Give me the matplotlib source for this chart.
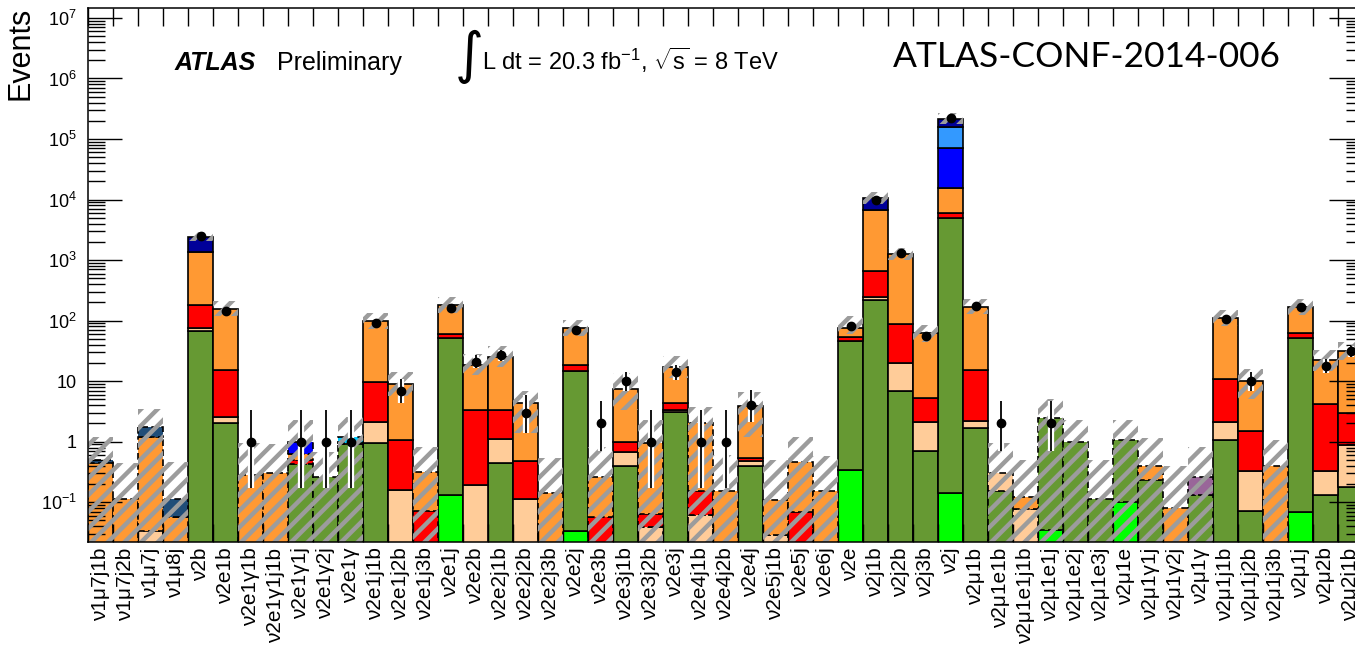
import numpy as np
import matplotlib
matplotlib.use('Agg')
import matplotlib.pyplot as plt
from matplotlib.ticker import FixedLocator, LogLocator, NullFormatter

nan = np.nan

categories = ['ν1μ7j1b', 'ν1μ7j2b', 'ν1μ7j', 'ν1μ8j', 'ν2b', 'ν2e1b', 'ν2e1γ1b', 'ν2e1γ1j1b',
              'ν2e1γ1j', 'ν2e1γ2j', 'ν2e1γ', 'ν2e1j1b', 'ν2e1j2b', 'ν2e1j3b', 'ν2e1j', 'ν2e2b',
              'ν2e2j1b', 'ν2e2j2b', 'ν2e2j3b', 'ν2e2j', 'ν2e3b', 'ν2e3j1b', 'ν2e3j2b', 'ν2e3j',
              'ν2e4j1b', 'ν2e4j2b', 'ν2e4j', 'ν2e5j1b', 'ν2e5j', 'ν2e6j', 'ν2e', 'ν2j1b', 'ν2j2b',
              'ν2j3b', 'ν2j', 'ν2μ1b', 'ν2μ1e1b', 'ν2μ1e1j1b', 'ν2μ1e1j', 'ν2μ1e2j', 'ν2μ1e3j',
              'ν2μ1e', 'ν2μ1γ1j', 'ν2μ1γ2j', 'ν2μ1γ', 'ν2μ1j1b', 'ν2μ1j2b', 'ν2μ1j3b', 'ν2μ1j',
              'ν2μ2b', 'ν2μ2j1b']

# stacked background components (bottom to top)
light_green = [0, 0, 0, 0, 0, 0, 0, 0, 0, 0,
               0, 0, 0, 0, 0.13, 0, 0, 0, 0, 0.032,
               0, 0, 0, 0, 0, 0, 0, 0, 0, 0,
               0.34, 0, 0, 0, 0.14, 0, 0, 0, 0.034, 0,
               0, 0.098, 0, 0, 0, 0, 0, 0, 0.067, 0,
               0]
green = [0, 0, 0, 0, 68, 2.0, 0, 0, 0.42, 0.26,
         0.9, 0.95, 0, 0, 52, 0, 0.45, 0, 0, 14.4,
         0, 0.39, 0, 3.1, 0, 0, 0.39, 0, 0, 0,
         46, 215, 7, 0.71, 4900, 1.7, 0.155, 0, 2.47, 1.0,
         0.114, 0.97, 0.235, 0, 0.133, 1.08, 0.07, 0, 52, 0.133,
         0.18]
peach = [0, 0, 0.032, 0, 8, 0.6, 0, 0, 0, 0,
         0, 1.15, 0.16, 0, 0, 0.19, 0.65, 0.114, 0, 0,
         0, 0.29, 0.038, 0.2, 0.06, 0, 0.08, 0.028, 0, 0,
         0, 35, 13, 1.4, 0, 0.5, 0.145, 0.075, 0, 0,
         0, 0, 0, 0, 0, 1.0, 0.26, 0, 0, 0.19,
         0.71]
red = [0, 0, 0, 0, 108, 12.4, 0, 0, 0.08, 0,
       0, 7.7, 0.92, 0.07, 8, 3.2, 2.2, 0.37, 0, 4.3,
       0.055, 0.32, 0.026, 1.1, 0.09, 0, 0.07, 0, 0.067, 0,
       7.7, 420, 69, 3.2, 1200, 12.8, 0, 0, 0, 0,
       0, 0, 0, 0, 0, 8.9, 1.17, 0, 11, 3.8,
       2.1]
orange = [0.45, 0.11, 1.17, 0.055, 1186, 143, 0.28, 0.3, 0.12, 0,
          0.05, 90, 8.0, 0.25, 124, 15.3, 21.7, 3.8, 0.14, 57,
          0.2, 6.5, 0.9, 12.6, 1.85, 0.15, 3.36, 0.078, 0.4, 0.155,
          22, 5930, 1191, 57.7, 9700, 155, 0, 0.048, 0, 0,
          0, 0, 0.155, 0.08, 0, 101, 8.7, 0.39, 107, 17.9,
          28]
blue = [0, 0, 0, 0, 0, 0, 0, 0, 0.38, 0,
        0, 0, 0, 0, 0, 0, 0, 0, 0, 0,
        0, 0, 0, 0, 0, 0, 0, 0, 0, 0,
        0, 0, 0, 0, 54200, 0, 0, 0, 0, 0,
        0, 0, 0, 0, 0, 0, 0, 0, 0, 0,
        0]
light_blue = [0, 0, 0, 0, 0, 0, 0, 0, 0, 0,
              0, 0, 0, 0, 0, 0, 0, 0, 0, 0,
              0, 0, 0, 0, 0, 0, 0, 0, 0, 0,
              0, 0, 0, 0, 85000, 0, 0, 0, 0, 0,
              0, 0, 0, 0, 0, 0, 0, 0, 0, 0,
              0]
cyan = [0, 0, 0, 0, 0, 0, 0, 0, 0, 0,
        0.25, 0, 0, 0, 0, 0, 0, 0, 0, 0,
        0, 0, 0, 0, 0, 0, 0, 0, 0, 0,
        0, 0, 0, 0, 0, 0, 0, 0, 0, 0,
        0, 0, 0, 0, 0, 0, 0, 0, 0, 0,
        0]
purple = [0, 0, 0, 0, 0, 0, 0, 0, 0, 0,
          0, 0, 0, 0, 0, 0, 0, 0, 0, 0,
          0, 0, 0, 0, 0, 0, 0, 0, 0, 0,
          0, 0, 0, 0, 0, 0, 0, 0, 0, 0,
          0, 0, 0, 0, 0.127, 0, 0, 0, 0, 0,
          0]
steel = [0.05, 0, 0.57, 0.059, 0, 0, 0, 0, 0, 0,
         0, 0, 0, 0, 0, 0, 0, 0, 0, 0,
         0, 0, 0, 0, 0, 0, 0, 0, 0, 0,
         0, 0, 0, 0, 0, 0, 0, 0, 0, 0,
         0, 0, 0, 0, 0, 0, 0, 0, 0, 0,
         0]
navy = [0, 0, 0, 0, 1080, 0, 0, 0, 0, 0,
        0, 0, 0, 0, 0, 0, 0, 0, 0, 0,
        0, 0, 0, 0, 0, 0, 0, 0, 0, 0,
        0, 4100, 0, 0, 62000, 0, 0, 0, 0, 0,
        0, 0, 0, 0, 0, 0, 0, 0, 0, 0,
        0]

# uncertainty band (0 lower edge = band reaches the bottom)
band_hi = [1.2, 0.45, 3.4, 0.47, 2950, 213, 0.96, 0.9, 2.3, 0.67,
           2.6, 135, 14.4, 0.83, 248, 28, 38, 6.8, 0.54, 103,
           0.83, 13.7, 2.3, 25.6, 3.7, 0.6, 6.6, 0.5, 1.2, 0.57,
           120, 13500, 1600, 85, 270000, 225, 0.96, 0.5, 5.0, 2.3,
           0.5, 2.3, 1.15, 0.39, 0.83, 150, 16, 1.08, 230, 33,
           44]
band_lo = [0, 0, 0, 0, 2030, 117, 0, 0, 0, 0,
           0, 74, 5.7, 0, 136, 12.4, 17, 1.4, 0, 56,
           0, 3.3, 0, 11.3, 0, 0, 1.2, 0, 0, 0,
           60, 8500, 1020, 45, 175000, 128, 0, 0, 0, 0,
           0, 0, 0, 0, 0, 83, 5.1, 0, 126, 14.5,
           22]

# observed data and error bar ends
observed = [nan, nan, nan, nan, 2500, 146, 1, nan, 1, 1,
            1, 90, 7, nan, 160, 21, 27, 3, nan, 71,
            2, 10, 1, 14, 1, 1, 4, nan, nan, nan,
            83, 10000, 1320, 55, 220000, 177, 2, nan, 2, nan,
            nan, nan, nan, nan, nan, 108, 10, nan, 165, 18,
            31]
obs_lo = [nan, nan, nan, nan, 2450, 134, 0.17, nan, 0.17, 0.17,
          0.17, 80.5, 4.42, nan, 147, 16.5, 21.8, 1.37, nan, 62.6,
          0.71, 6.89, 0.17, 10.3, 0.17, 0.17, 2.09, nan, nan, nan,
          74, 9900, 1284, 47.6, 219000, 164, 0.71, nan, 0.71, nan,
          nan, nan, nan, nan, nan, 97.6, 6.89, nan, 152, 13.7,
          25.4]
obs_hi = [nan, nan, nan, nan, 2550, 158, 3.3, nan, 3.3, 3.3,
          3.3, 99.5, 10.77, nan, 173, 26.7, 33.3, 5.92, nan, 79.4,
          4.64, 14.26, 3.3, 18.8, 3.3, 3.3, 7.16, nan, nan, nan,
          92, 10100, 1356, 62.4, 221000, 190, 4.64, nan, 4.64, nan,
          nan, nan, nan, nan, nan, 118.4, 14.26, nan, 178, 23.1,
          37.6]

ytick_values = [0.1, 1, 10, 100, 1e3, 1e4, 1e5, 1e6, 1e7]
ytick_labels = ['$10^{-1}$', '1', '10', '$10^{2}$', '$10^{3}$', '$10^{4}$', '$10^{5}$', '$10^{6}$', '$10^{7}$']

# ---------------------------------------------------------------- style
plt.rcParams['font.family'] = ['Liberation Sans', 'DejaVu Sans']
plt.rcParams['mathtext.fontset'] = 'custom'
plt.rcParams['mathtext.rm'] = 'Liberation Sans'
plt.rcParams['mathtext.it'] = 'Liberation Sans:italic'
plt.rcParams['mathtext.bf'] = 'Liberation Sans:bold'
plt.rcParams['hatch.linewidth'] = 3.2

components = [
    (light_green, '#00ff00'), (green, '#669933'), (peach, '#ffcc99'), (red, '#ff0000'),
    (orange, '#ff9933'), (blue, '#0000ff'), (light_blue, '#3399ff'), (cyan, '#00ccff'),
    (purple, '#996699'), (steel, '#204d78'), (navy, '#000099'),
]

fig = plt.figure(figsize=(13.55, 6.52), dpi=100)
ax = fig.add_axes([88 / 1355, 110 / 652, 1275 / 1355, 534 / 652])

n = len(categories)
x = np.arange(n) + 0.5
floor = 1e-3
lo_arr = np.array(band_lo, float)
hi_arr = np.array(band_hi, float)
dashed = lo_arr <= 0

bottom = np.full(n, floor)
for vals, col in components:
    v = np.array(vals, float)
    m = v > 0
    for ls, sel in (('-', m & ~dashed), ((0, (4, 2)), m & dashed)):
        if sel.any():
            ax.bar(x[sel], v[sel], width=1.0, bottom=bottom[sel], color=col,
                   edgecolor='black', linewidth=1.2, linestyle=ls, zorder=1)
    bottom = bottom + v

band_bottom = np.where(lo_arr > 0, lo_arr, floor)
ax.bar(x, hi_arr - band_bottom, width=1.0, bottom=band_bottom, fill=False,
       hatch='//', edgecolor='#9c9c9c', linewidth=0, zorder=2)

obs = np.array(observed, float)
olo = np.array(obs_lo, float)
ohi = np.array(obs_hi, float)
has = ~np.isnan(obs)
ax.vlines(x[has], olo[has], ohi[has], colors='white', linewidth=4.5, zorder=4)
ax.vlines(x[has], olo[has], ohi[has], colors='black', linewidth=1.3, zorder=5)
ax.plot(x[has], obs[has], 'o', color='black', ms=6, zorder=6)

ax.set_yscale('log')
ax.set_ylim(0.022, 1.46e7)
ax.set_xlim(0, n)

ax.set_xticks(x)
ax.set_xticklabels(categories, rotation=90, fontsize=15)
ax.set_xticks(np.arange(n + 1), minor=True)
ax.tick_params(axis='x', which='major', length=0, pad=4)
ax.tick_params(axis='x', which='minor', direction='in', length=13, width=1,
               top=True, bottom=True)

ax.yaxis.set_major_locator(FixedLocator(ytick_values))
ax.set_yticklabels(ytick_labels)
ax.yaxis.set_minor_locator(LogLocator(base=10, subs=np.arange(2, 10), numticks=100))
ax.yaxis.set_minor_formatter(NullFormatter())
ax.tick_params(axis='y', which='major', direction='in', length=24.5, width=1,
               left=True, right=True, labelsize=13, pad=8)
ax.tick_params(axis='y', which='minor', direction='in', length=12.2, width=1,
               left=True, right=True)
for s in ax.spines.values():
    s.set_linewidth(1.1)

# texts
fig.text(21 / 1355, 1 - 7 / 652, 'Events', rotation=90, ha='center', va='top', fontsize=22)
fig.text(175 / 1355, 1 - 70 / 652, 'ATLAS', fontsize=18, fontweight='bold', fontstyle='italic',
         va='baseline')
fig.text(277 / 1355, 1 - 70 / 652, 'Preliminary', fontsize=18, va='baseline')
fig.text(469 / 1355, 1 - 57 / 652, '∫', fontsize=40, ha='center', va='center',
         family=['DejaVu Sans'])
fig.text(482 / 1355, 1 - 70 / 652, r'L dt = 20.3 fb$^{-1}$, $\sqrt{\mathrm{s}}$ = 8 TeV',
         fontsize=17, va='baseline')
fig.text(893 / 1355, 1 - 67 / 652, 'ATLAS-CONF-2014-006', fontsize=25.5, va='baseline',
         family=['Lato', 'DejaVu Sans'])

fig.savefig('out.png', dpi=100)
